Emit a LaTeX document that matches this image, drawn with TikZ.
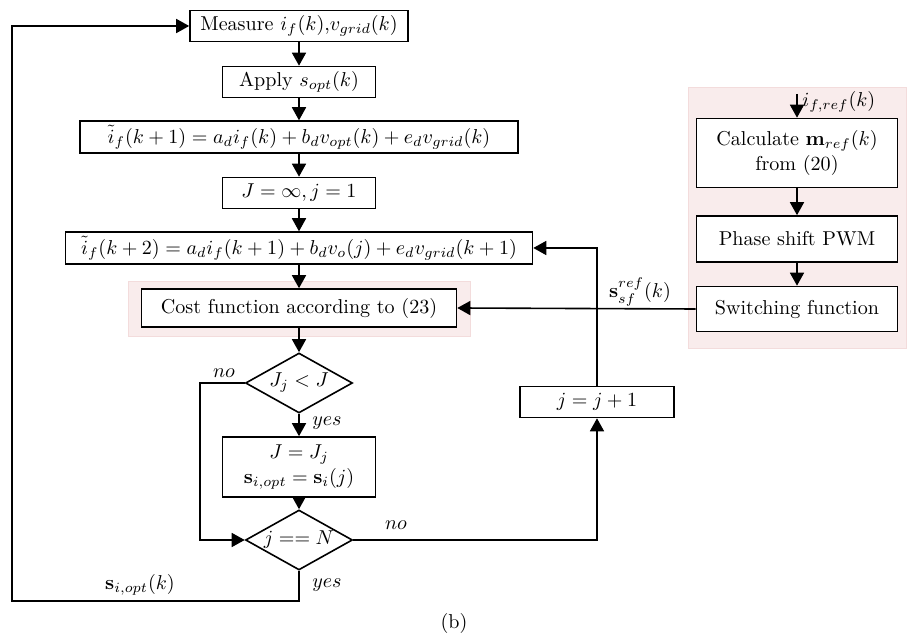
\documentclass[tikz,border=0pt]{standalone}
\usepackage{amsmath}
\usetikzlibrary{shapes.geometric,arrows.meta}

\definecolor{pinkbg}{RGB}{249,236,236}
\definecolor{pinkline}{RGB}{243,220,220}

\tikzset{
  procbox/.style={draw,thick,fill=white,minimum height=31\pxu,inner sep=2pt,align=center},
  decision/.style={draw,thick,fill=white,diamond,aspect=1.8,minimum width=107\pxu,minimum height=60\pxu,inner sep=0pt},
  flow/.style={thick,-{Triangle[length=6.5pt,width=7pt]}},
  zone/.style={fill=pinkbg,draw=pinkline,thin}
}
\newcommand{\pxu}{*0.0175cm}

\begin{document}
\begin{tikzpicture}[x=0.0175cm,y=-0.0175cm]
  \useasboundingbox (0,0) rectangle (908,639);
  % shaded zones
  \draw[zone] (128,281) rectangle (470,336);
  \draw[zone] (688,87) rectangle (906,348);

  % main loop
  \node[procbox,minimum width=218\pxu] (meas) at (299,26) {Measure $i_f(k)$,$v_{grid}(k)$};
  \node[procbox,minimum width=153\pxu] (apply) at (299,82) {Apply $s_{opt}(k)$};
  \node[procbox,minimum width=438\pxu] (eqa) at (299,137) {$\tilde{i}_f(k+1)=a_d i_f(k)+b_d v_{opt}(k)+e_d v_{grid}(k)$};
  \node[procbox,minimum width=153\pxu] (init) at (299,193) {$J=\infty, j=1$};
  \node[procbox,minimum width=467\pxu] (eqb) at (299,248) {$\tilde{i}_f(k+2)=a_d i_f(k+1)+b_d v_{o}(j)+e_d v_{grid}(k+1)$};
  \node[procbox,minimum width=315\pxu,minimum height=38\pxu] (cost) at (299,308) {Cost function according to (23)};
  \node[decision] (cmp) at (299,383) {$J_j<J$};
  \node[procbox,minimum width=153\pxu,minimum height=60\pxu,inner sep=1pt] (upd) at (299,467) {$J=J_j$\\$\mathbf{s}_{i,opt}=\mathbf{s}_i(j)$};
  \node[decision] (last) at (299,540) {$j==N$};
  \node[procbox,minimum width=154\pxu] (incr) at (597,402) {$j=j+1$};

  % reference branch
  \coordinate (iref) at (797,94);
  \node[procbox,minimum width=201\pxu,minimum height=69\pxu] (calc) at (797,153) {Calculate $\mathbf{m}_{ref}(k)$\\from (20)};
  \node[procbox,minimum width=201\pxu,minimum height=46\pxu] (pwm) at (797,239) {Phase shift PWM};
  \node[procbox,minimum width=201\pxu,minimum height=45\pxu] (sw) at (797,309) {Switching function};
  \coordinate (fb) at (12,601);

  \draw[flow] (meas) -- (apply);
  \draw[flow] (apply) -- (eqa);
  \draw[flow] (eqa) -- (init);
  \draw[flow] (init) -- (eqb);
  \draw[flow] (eqb) -- (cost);
  \draw[flow] (cost) -- (cmp);
  \draw[flow] (cmp) -- (upd);
  \draw[flow] (upd) -- (last);
  \draw[flow] (cmp.west) -- ++(-45,0) |- (last.west);
  \draw[flow] (last.east) -| (incr.south);
  \draw[flow] (incr.north) |- (eqb.east);
  \draw[flow] (last.south) |- (fb) |- (meas.west);
  \draw[flow] (iref) -- (calc.north);
  \draw[flow] (calc) -- (pwm);
  \draw[flow] (pwm) -- (sw);
  \draw[flow] (sw.west) -- (cost.east);

  % labels
  \node (lnoa) at (224,373) {$no$};
  \node (lyesa) at (327,423) {$yes$};
  \node (lnob) at (396,525) {$no$};
  \node (lyesb) at (327,585) {$yes$};
  \node (lsopt) at (140,585) {$\mathbf{s}_{i,opt}(k)$};
  \node (lssf) at (640,292) {$\mathbf{s}_{sf}^{ref}(k)$};
  \node[anchor=west,inner sep=1pt] (lir) at (800,102) {$i_{f,ref}(k)$};
  \node (cap) at (454,623) {(b)};
\end{tikzpicture}
\end{document}
